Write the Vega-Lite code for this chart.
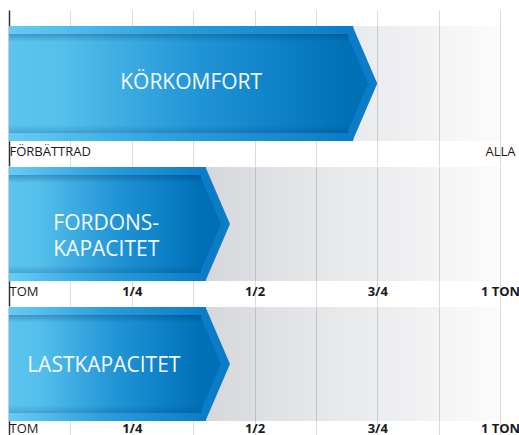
{
  "$schema": "https://vega.github.io/schema/vega-lite/v6.json",
  "background": "white",
  "padding": {"left": 8, "top": 10, "right": 0, "bottom": 0},
  "config": {"view": {"stroke": null}},
  "spacing": 0,
  "data": {"values": [
    {"metric": "KÖRKOMFORT", "label": "KÖRKOMFORT", "value": 0.75},
    {"metric": "FORDONSKAPACITET", "label": "FORDONS-\nKAPACITET", "value": 0.45},
    {"metric": "LASTKAPACITET", "label": "LASTKAPACITET", "value": 0.45}
  ]},
  "vconcat": [
    {
      "width": 491, "height": 131,
      "transform": [{"filter": "datum.metric == 'KÖRKOMFORT'"}],
      "encoding": {"y": {"field": "metric", "type": "nominal", "axis": null, "scale": {"paddingInner": 0, "paddingOuter": 0.0696, "align": 1}}},
      "layer": [
        {
          "mark": {"type": "bar", "fill": {"gradient": "linear", "x1": 0, "y1": 0, "x2": 1, "y2": 0, "stops": [
            {"offset": 0, "color": "rgba(20,30,50,0.22)"}, {"offset": 0.4, "color": "rgba(20,30,50,0.175)"},
            {"offset": 0.62, "color": "rgba(20,30,50,0.11)"}, {"offset": 0.8, "color": "rgba(20,30,50,0.07)"},
            {"offset": 1, "color": "rgba(20,30,50,0.015)"}]}},
          "encoding": {"x": {"datum": 1, "type": "quantitative", "scale": {"domain": [0, 1], "nice": false},
              "axis": {"title": null, "domain": false, "values": [0, 0.125, 0.25, 0.375, 0.5, 0.625, 0.75, 0.875, 1],
                "grid": true,
                "gridColor": {"condition": {"test": "datum.value == 0", "value": "#333333"}, "value": "#000000"},
                "gridOpacity": {"condition": {"test": "datum.value == 0", "value": 1}, "value": 0.14},
                "gridWidth": {"condition": {"test": "datum.value == 0", "value": 1.5}, "value": 1},
                "ticks": true, "tickSize": 25,
                "tickColor": {"condition": {"test": "datum.value == 0", "value": "#333333"}, "value": "#000000"},
                "tickOpacity": {"condition": {"test": "datum.value == 0", "value": 1}, "value": 0.14},
                "tickWidth": {"condition": {"test": "datum.value == 0", "value": 1.5}, "value": 1},
                "labelExpr": "datum.value == 0 ? '\u00a0FÖRBÄTTRAD' : datum.value == 1 ? 'ALLA' : ''",
                "labelAlign": {"condition": {"test": "datum.value == 0", "value": "left"}, "value": "center"},
                "labelBaseline": "middle", "labelPadding": -15,
                "labelFont": "Open Sans", "labelFontSize": 13, "labelColor": "#1a1a1a",
                "labelBound": false, "labelFlush": false, "labelOverlap": false}}}
        },
        {
          "mark": {"type": "point", "shape": "M -0.43 -1 L 0 0 L -0.43 1 Z", "size": 13225, "filled": true, "opacity": 1, "strokeWidth": 0, "fill": "#0a7cc8"},
          "encoding": {"x": {"field": "value", "type": "quantitative"}}
        },
        {
          "mark": {"type": "bar", "xOffset": -24, "fill": {"gradient": "linear", "x1": 0, "y1": 0, "x2": 1, "y2": 0, "stops": [
            {"offset": 0, "color": "#66ccf6"}, {"offset": 0.5, "color": "#2a9ddb"}, {"offset": 1, "color": "#0a7cc8"}]}},
          "encoding": {"x": {"field": "value", "type": "quantitative", "stack": null}}
        },
        {
          "mark": {"type": "bar", "xOffset": -29, "height": {"band": 0.861}, "fill": {"gradient": "linear", "x1": 0, "y1": 0, "x2": 1, "y2": 0, "stops": [
            {"offset": 0, "color": "#5bc4ef"}, {"offset": 0.15, "color": "#55c0ec"}, {"offset": 0.55, "color": "#2295d6"},
            {"offset": 0.85, "color": "#0a7cc4"}, {"offset": 1, "color": "#0070b6"}]}},
          "encoding": {"x": {"field": "value", "type": "quantitative", "stack": null}}
        },
        {
          "mark": {"type": "point", "shape": "M -0.43 -1 L 0 0 L -0.43 1 Z", "size": 9604, "xOffset": -9, "filled": true, "opacity": 1, "strokeWidth": 0, "fill": "#0070b6"},
          "encoding": {"x": {"field": "value", "type": "quantitative"}}
        },
        {
          "mark": {"type": "bar", "xOffset": -29, "height": {"band": 0.861}, "fill": {"gradient": "linear", "x1": 0, "y1": 0, "x2": 0, "y2": 1, "stops": [
            {"offset": 0, "color": "rgba(0,45,90,0.3)"}, {"offset": 0.08, "color": "rgba(0,45,90,0)"},
            {"offset": 0.92, "color": "rgba(0,45,90,0)"}, {"offset": 1, "color": "rgba(0,45,90,0.2)"}]}},
          "encoding": {"x": {"field": "value", "type": "quantitative", "stack": null}}
        },
        {
          "mark": {"type": "text", "font": "Open Sans", "fontSize": 21, "fill": "#f4faff", "align": "center", "baseline": "middle", "lineBreak": "\n", "lineHeight": 25, "dy": -1},
          "encoding": {"x": {"datum": 0.371, "type": "quantitative"}, "text": {"field": "label", "type": "nominal"}}
        }
      ]
    },
    {
      "width": 491, "height": 114,
      "transform": [{"filter": "datum.metric == 'FORDONSKAPACITET'"}],
      "encoding": {"y": {"field": "metric", "type": "nominal", "axis": null, "scale": {"paddingInner": 0, "paddingOuter": 0}}},
      "layer": [
        {
          "mark": {"type": "bar", "fill": {"gradient": "linear", "x1": 0, "y1": 0, "x2": 1, "y2": 0, "stops": [
            {"offset": 0, "color": "rgba(20,30,50,0.22)"}, {"offset": 0.4, "color": "rgba(20,30,50,0.175)"},
            {"offset": 0.62, "color": "rgba(20,30,50,0.11)"}, {"offset": 0.8, "color": "rgba(20,30,50,0.07)"},
            {"offset": 1, "color": "rgba(20,30,50,0.015)"}]}},
          "encoding": {"x": {"datum": 1, "type": "quantitative", "scale": {"domain": [0, 1], "nice": false},
              "axis": {"title": null, "domain": false, "values": [0, 0.125, 0.25, 0.375, 0.5, 0.625, 0.75, 0.875, 1],
                "grid": true,
                "gridColor": {"condition": {"test": "datum.value == 0", "value": "#333333"}, "value": "#000000"},
                "gridOpacity": {"condition": {"test": "datum.value == 0", "value": 1}, "value": 0.14},
                "gridWidth": {"condition": {"test": "datum.value == 0", "value": 1.5}, "value": 1},
                "ticks": true, "tickSize": 25,
                "tickColor": {"condition": {"test": "datum.value == 0", "value": "#333333"}, "value": "#000000"},
                "tickOpacity": {"condition": {"test": "datum.value == 0", "value": 1}, "value": 0.14},
                "tickWidth": {"condition": {"test": "datum.value == 0", "value": 1.5}, "value": 1},
                "labelExpr": "datum.value == 0 ? '\u00a0TOM' : datum.value == 0.25 ? '1/4' : datum.value == 0.5 ? '1/2' : datum.value == 0.75 ? '3/4' : datum.value == 1 ? '1 TON' : ''",
                "labelAlign": {"condition": {"test": "datum.value == 0", "value": "left"}, "value": "center"},
                "labelFontWeight": {"condition": {"test": "datum.value == 0", "value": "normal"}, "value": "bold"},
                "labelBaseline": "middle", "labelPadding": -15,
                "labelFont": "Open Sans", "labelFontSize": 13, "labelColor": "#1a1a1a",
                "labelBound": false, "labelFlush": false, "labelOverlap": false}}}
        },
        {
          "mark": {"type": "point", "shape": "M -0.43 -1 L 0 0 L -0.43 1 Z", "size": 12996, "filled": true, "opacity": 1, "strokeWidth": 0, "fill": "#0a7cc8"},
          "encoding": {"x": {"field": "value", "type": "quantitative"}}
        },
        {
          "mark": {"type": "bar", "xOffset": -24, "fill": {"gradient": "linear", "x1": 0, "y1": 0, "x2": 1, "y2": 0, "stops": [
            {"offset": 0, "color": "#66ccf6"}, {"offset": 0.5, "color": "#2a9ddb"}, {"offset": 1, "color": "#0a7cc8"}]}},
          "encoding": {"x": {"field": "value", "type": "quantitative", "stack": null}}
        },
        {
          "mark": {"type": "bar", "xOffset": -29, "height": {"band": 0.86}, "fill": {"gradient": "linear", "x1": 0, "y1": 0, "x2": 1, "y2": 0, "stops": [
            {"offset": 0, "color": "#5bc4ef"}, {"offset": 0.15, "color": "#55c0ec"}, {"offset": 0.55, "color": "#2295d6"},
            {"offset": 0.85, "color": "#0a7cc4"}, {"offset": 1, "color": "#0070b6"}]}},
          "encoding": {"x": {"field": "value", "type": "quantitative", "stack": null}}
        },
        {
          "mark": {"type": "point", "shape": "M -0.43 -1 L 0 0 L -0.43 1 Z", "size": 9604, "xOffset": -9, "filled": true, "opacity": 1, "strokeWidth": 0, "fill": "#0070b6"},
          "encoding": {"x": {"field": "value", "type": "quantitative"}}
        },
        {
          "mark": {"type": "bar", "xOffset": -29, "height": {"band": 0.86}, "fill": {"gradient": "linear", "x1": 0, "y1": 0, "x2": 0, "y2": 1, "stops": [
            {"offset": 0, "color": "rgba(0,45,90,0.3)"}, {"offset": 0.08, "color": "rgba(0,45,90,0)"},
            {"offset": 0.92, "color": "rgba(0,45,90,0)"}, {"offset": 1, "color": "rgba(0,45,90,0.2)"}]}},
          "encoding": {"x": {"field": "value", "type": "quantitative", "stack": null}}
        },
        {
          "mark": {"type": "text", "font": "Open Sans", "fontSize": 21, "fill": "#f4faff", "align": "center", "baseline": "middle", "lineBreak": "\n", "lineHeight": 26},
          "encoding": {"x": {"datum": 0.198, "type": "quantitative"}, "text": {"field": "label", "type": "nominal"}}
        }
      ]
    },
    {
      "width": 491, "height": 114,
      "transform": [{"filter": "datum.metric == 'LASTKAPACITET'"}],
      "encoding": {"y": {"field": "metric", "type": "nominal", "axis": null, "scale": {"paddingInner": 0, "paddingOuter": 0}}},
      "layer": [
        {
          "mark": {"type": "bar", "fill": {"gradient": "linear", "x1": 0, "y1": 0, "x2": 1, "y2": 0, "stops": [
            {"offset": 0, "color": "rgba(20,30,50,0.22)"}, {"offset": 0.4, "color": "rgba(20,30,50,0.175)"},
            {"offset": 0.62, "color": "rgba(20,30,50,0.11)"}, {"offset": 0.8, "color": "rgba(20,30,50,0.07)"},
            {"offset": 1, "color": "rgba(20,30,50,0.015)"}]}},
          "encoding": {"x": {"datum": 1, "type": "quantitative", "scale": {"domain": [0, 1], "nice": false},
              "axis": {"title": null, "domain": false, "values": [0, 0.125, 0.25, 0.375, 0.5, 0.625, 0.75, 0.875, 1],
                "grid": true,
                "gridColor": {"condition": {"test": "datum.value == 0", "value": "#333333"}, "value": "#000000"},
                "gridOpacity": {"condition": {"test": "datum.value == 0", "value": 1}, "value": 0.14},
                "gridWidth": {"condition": {"test": "datum.value == 0", "value": 1.5}, "value": 1},
                "ticks": true, "tickSize": 25,
                "tickColor": {"condition": {"test": "datum.value == 0", "value": "#333333"}, "value": "#000000"},
                "tickOpacity": {"condition": {"test": "datum.value == 0", "value": 1}, "value": 0.14},
                "tickWidth": {"condition": {"test": "datum.value == 0", "value": 1.5}, "value": 1},
                "labelExpr": "datum.value == 0 ? '\u00a0TOM' : datum.value == 0.25 ? '1/4' : datum.value == 0.5 ? '1/2' : datum.value == 0.75 ? '3/4' : datum.value == 1 ? '1 TON' : ''",
                "labelAlign": {"condition": {"test": "datum.value == 0", "value": "left"}, "value": "center"},
                "labelFontWeight": {"condition": {"test": "datum.value == 0", "value": "normal"}, "value": "bold"},
                "labelBaseline": "middle", "labelPadding": -18,
                "labelFont": "Open Sans", "labelFontSize": 13, "labelColor": "#1a1a1a",
                "labelBound": false, "labelFlush": false, "labelOverlap": false}}}
        },
        {
          "mark": {"type": "point", "shape": "M -0.43 -1 L 0 0 L -0.43 1 Z", "size": 12996, "filled": true, "opacity": 1, "strokeWidth": 0, "fill": "#0a7cc8"},
          "encoding": {"x": {"field": "value", "type": "quantitative"}}
        },
        {
          "mark": {"type": "bar", "xOffset": -24, "fill": {"gradient": "linear", "x1": 0, "y1": 0, "x2": 1, "y2": 0, "stops": [
            {"offset": 0, "color": "#66ccf6"}, {"offset": 0.5, "color": "#2a9ddb"}, {"offset": 1, "color": "#0a7cc8"}]}},
          "encoding": {"x": {"field": "value", "type": "quantitative", "stack": null}}
        },
        {
          "mark": {"type": "bar", "xOffset": -29, "height": {"band": 0.86}, "fill": {"gradient": "linear", "x1": 0, "y1": 0, "x2": 1, "y2": 0, "stops": [
            {"offset": 0, "color": "#5bc4ef"}, {"offset": 0.15, "color": "#55c0ec"}, {"offset": 0.55, "color": "#2295d6"},
            {"offset": 0.85, "color": "#0a7cc4"}, {"offset": 1, "color": "#0070b6"}]}},
          "encoding": {"x": {"field": "value", "type": "quantitative", "stack": null}}
        },
        {
          "mark": {"type": "point", "shape": "M -0.43 -1 L 0 0 L -0.43 1 Z", "size": 9604, "xOffset": -9, "filled": true, "opacity": 1, "strokeWidth": 0, "fill": "#0070b6"},
          "encoding": {"x": {"field": "value", "type": "quantitative"}}
        },
        {
          "mark": {"type": "bar", "xOffset": -29, "height": {"band": 0.86}, "fill": {"gradient": "linear", "x1": 0, "y1": 0, "x2": 0, "y2": 1, "stops": [
            {"offset": 0, "color": "rgba(0,45,90,0.3)"}, {"offset": 0.08, "color": "rgba(0,45,90,0)"},
            {"offset": 0.92, "color": "rgba(0,45,90,0)"}, {"offset": 1, "color": "rgba(0,45,90,0.2)"}]}},
          "encoding": {"x": {"field": "value", "type": "quantitative", "stack": null}}
        },
        {
          "mark": {"type": "text", "font": "Open Sans", "fontSize": 21, "fill": "#f4faff", "align": "center", "baseline": "middle", "lineBreak": "\n", "lineHeight": 25, "dy": 2},
          "encoding": {"x": {"datum": 0.193, "type": "quantitative"}, "text": {"field": "label", "type": "nominal"}}
        }
      ]
    }
  ]
}
